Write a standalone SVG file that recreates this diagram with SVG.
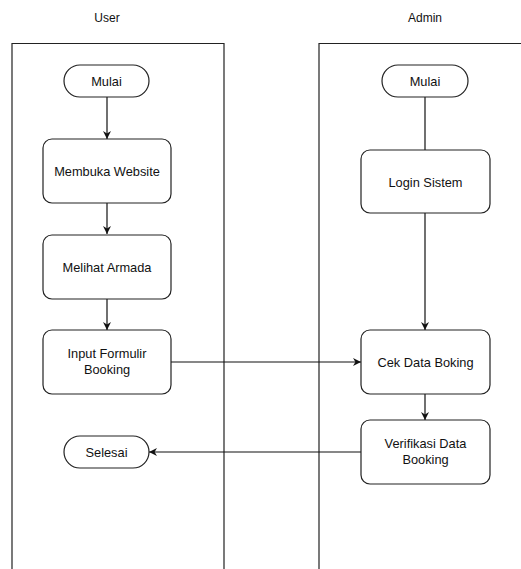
<svg xmlns="http://www.w3.org/2000/svg" width="521" height="569" viewBox="0 0 521 569">
<style>
.n{fill:#fff;stroke:#222;stroke-width:1.2}
.t{font-family:"Liberation Sans",Arial,sans-serif;font-size:12.8px;fill:#111;text-anchor:middle}
.h{font-family:"Liberation Sans",Arial,sans-serif;font-size:12px;fill:#111;text-anchor:middle}
.e{fill:none;stroke:#111;stroke-width:1.2}
.lane{fill:none;stroke:#222;stroke-width:1.2}
</style>
<defs>
<marker id="a" viewBox="0 0 10 10" refX="10" refY="5" markerWidth="8" markerHeight="8" markerUnits="userSpaceOnUse" orient="auto">
<path d="M0,0 L10,5 L0,10 L3,5 Z" fill="#111"/>
</marker>
</defs>
<rect width="521" height="569" fill="#fff"/>
<g id="lane-user">
<path class="lane" d="M12,569 V43.5 H224 V569"/>
<text class="h" x="107" y="22">User</text>
</g>
<g id="lane-admin">
<path class="lane" d="M319,569 V43.5 H522"/>
<text class="h" x="425" y="22">Admin</text>
</g>
<g id="connectors">
<path class="e" d="M107,97 V139" marker-end="url(#a)"/>
<path class="e" d="M107,203 V234" marker-end="url(#a)"/>
<path class="e" d="M107,299 V330" marker-end="url(#a)"/>
<path class="e" d="M171,362 H361" marker-end="url(#a)"/>
<path class="e" d="M425,97 V150"/>
<path class="e" d="M425,213 V330" marker-end="url(#a)"/>
<path class="e" d="M425,394 V420" marker-end="url(#a)"/>
<path class="e" d="M361,452 H149" marker-end="url(#a)"/>
</g>
<g id="user-mulai">
<rect class="n" x="64" y="65" width="85" height="32" rx="16"/>
<text class="t" x="106.5" y="85.5">Mulai</text>
</g>
<g id="membuka-website">
<rect class="n" x="43" y="139" width="128" height="64" rx="9"/>
<text class="t" x="107" y="175.5">Membuka Website</text>
</g>
<g id="melihat-armada">
<rect class="n" x="43" y="235" width="128" height="64" rx="9"/>
<text class="t" x="107" y="271.5">Melihat Armada</text>
</g>
<g id="input-formulir">
<rect class="n" x="43" y="330" width="128" height="64" rx="9"/>
<text class="t" x="107" y="358">Input Formulir</text>
<text class="t" x="107" y="374">Booking</text>
</g>
<g id="selesai">
<rect class="n" x="64" y="436" width="85" height="32" rx="16"/>
<text class="t" x="106.5" y="456.5">Selesai</text>
</g>
<g id="admin-mulai">
<rect class="n" x="382" y="65" width="86" height="32" rx="16"/>
<text class="t" x="425" y="85.5">Mulai</text>
</g>
<g id="login-sistem">
<rect class="n" x="361" y="150" width="129" height="63" rx="9"/>
<text class="t" x="425.5" y="186.5">Login Sistem</text>
</g>
<g id="cek-data">
<rect class="n" x="361" y="330" width="129" height="64" rx="9"/>
<text class="t" x="425.5" y="366.5">Cek Data Boking</text>
</g>
<g id="verifikasi">
<rect class="n" x="361" y="420" width="129" height="64" rx="9"/>
<text class="t" x="425.5" y="448">Verifikasi Data</text>
<text class="t" x="425.5" y="464">Booking</text>
</g>
</svg>
